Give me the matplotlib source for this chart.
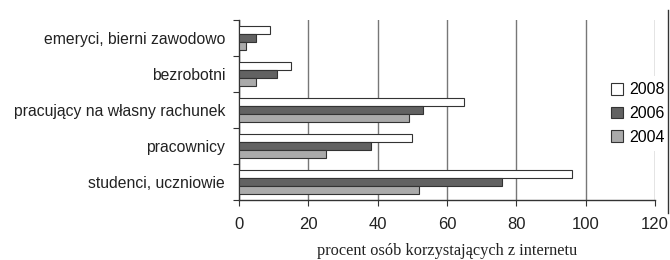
import matplotlib
matplotlib.use("Agg")
import matplotlib.pyplot as plt
import numpy as np
from matplotlib.lines import Line2D

categories = ["emeryci, bierni zawodowo", "bezrobotni", "pracujący na własny rachunek",
              "pracownicy", "studenci, uczniowie"]
series_names = ["2008", "2006", "2004"]
v2008 = [9, 15, 65, 50, 96]
v2006 = [5, 11, 53, 38, 76]
v2004 = [2, 5, 49, 25, 52]
xticks = [0, 20, 40, 60, 80, 100, 120]
xlabel = "procent osób korzystających z internetu"

colors = ["#ffffff", "#626262", "#aaaaaa"]

plt.rcParams['font.family'] = ['Liberation Sans', 'DejaVu Sans']
fig = plt.figure(figsize=(6.7, 2.6), dpi=100)
ax = fig.add_axes([239/670, 1-200/260, (655-239)/670, 180/260])

n = len(categories)
ypos = np.arange(n)[::-1].astype(float)  # top = first category
h = 0.23
offsets = [h, 0, -h]
for vals, name, col, off in zip([v2008, v2006, v2004], series_names, colors, offsets):
    ax.barh(ypos + off, vals, height=h, color=col, edgecolor="#333333", linewidth=0.8,
            label=name, zorder=3)

ax.set_xlim(0, 120)
ax.set_ylim(-0.5, n - 0.5)
ax.set_xticks(xticks)
ax.set_xticklabels([str(t) for t in xticks], fontsize=12, color="#222222")
ax.tick_params(axis='x', direction='out', length=4, width=0.8, color="#333333", pad=8)
ax.set_yticks(ypos)
ax.set_yticklabels(categories, fontsize=11.3, color="#222222")
ax.tick_params(axis='y', which='major', length=0, pad=10)
ax.set_yticks(np.arange(-0.5, n, 1.0), minor=True)
ax.tick_params(axis='y', which='minor', direction='out', length=4, width=0.8, color="#333333")
ax.grid(axis='x', color="#777777", linewidth=1.0, zorder=0)
for s in ["top", "right"]:
    ax.spines[s].set_visible(False)
for s in ["left", "bottom"]:
    ax.spines[s].set_color("#333333")
    ax.spines[s].set_linewidth(1.0)
ax.set_xlabel(xlabel, family=['Liberation Serif'], fontsize=11.8, color="#222222", labelpad=8)

leg = ax.legend(loc='center left', bbox_to_anchor=(0.88, 0.48), frameon=True,
                fontsize=11.5, handlelength=0.75, handleheight=0.75, handletextpad=0.35,
                labelspacing=0.55, borderaxespad=0, borderpad=0.4)
leg.get_frame().set_edgecolor("none")
leg.get_frame().set_facecolor("white")
leg.get_frame().set_alpha(1)
leg.set_zorder(5)

fig.add_artist(Line2D([668/670, 668/670], [1-10/260, 1-213/260], color="#333333", linewidth=1.0))

fig.savefig("out.png", dpi=100, facecolor="white")
